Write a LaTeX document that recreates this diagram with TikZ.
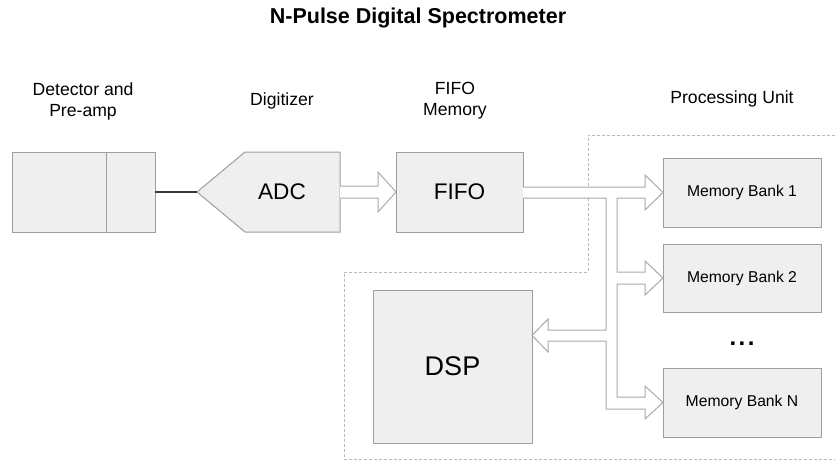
\documentclass[tikz,border=0pt]{standalone}
\usepackage{fontspec}
\setmainfont{Liberation Sans}
\usepackage{tikz}
\usetikzlibrary{calc}
\usetikzlibrary{positioning}

\definecolor{boxfill}{RGB}{239,239,239}
\definecolor{boxgray}{RGB}{158,158,158}
\definecolor{busgray}{RGB}{170,170,170}
\definecolor{wiregray}{RGB}{55,55,55}
\definecolor{dashgray}{RGB}{185,185,185}

\begin{document}
\begin{tikzpicture}[
    x=1pt,y=-1pt,
    box/.style={draw=boxgray,fill=boxfill,line width=1pt,inner sep=0pt,outer sep=0pt},
    bank/.style={box,minimum width=158pt,minimum height=69pt,font=\fontsize{15.7}{18}\selectfont},
    lbl/.style={align=center,font=\fontsize{17.6}{21}\selectfont},
    big/.style={font=\fontsize{22.6}{26}\selectfont},
    bus/.style={draw=busgray,fill=white,line width=1pt,line join=miter},
]
    \useasboundingbox (0,0) rectangle (835,460);

    %title and labels
    \node[font=\fontsize{21.5}{26}\selectfont\bfseries] (title) at (418,18) {N-Pulse Digital Spectrometer};
    \node[lbl] (ldet) at (83,101) {Detector and\\Pre-amp};
    \node[lbl] (ldig) at (282,101) {Digitizer};
    \node[lbl] (lfifo) at (455,101) {FIFO\\Memory};
    \node[lbl] (lpu) at (732,99) {Processing Unit};

    %processing unit
    \draw[dashgray,line width=1pt,dash pattern=on 3pt off 2pt]
        (835,135) -- (588,135) -- (588,272) -- (344,272) -- (344,459) -- (835,459);

    %detector
    \node[box,minimum width=94pt,minimum height=80pt] (det) at (59,192) {};
    \node[box,minimum width=49pt,minimum height=80pt,right=0pt of det] (amp) {};

    %digitizer
    \coordinate (adctip) at (197,192);
    \draw[box] (adctip) -- (245,152) -- (340,152) -- (340,232) -- (245,232) -- cycle;
    \node[big] (adc) at (282,192) {ADC};
    \draw[wiregray,line width=2pt] (amp) -- (adctip);

    %fifo
    \node[box,big,minimum width=127pt,minimum height=80pt] (fifo) at (459.5,192) {FIFO};
    \draw[bus] (340,186) -- (378,186) -- (378,172) -- (fifo.west) -- (378,212) -- (378,198) -- (340,198);

    %memory banks and dsp
    \node[bank] (mb1) at (742,192.5) {Memory Bank 1};
    \node[bank,minimum height=68pt] (mb2) at (742,278) {Memory Bank 2};
    \node[bank] (mbn) at (742,402.5) {Memory Bank N};
    \node[font=\fontsize{24}{28}\selectfont\bfseries] (dots) at (742,344) {.\hspace{2.5pt}.\hspace{2.5pt}.};
    \node[box,minimum width=159pt,minimum height=153pt,font=\fontsize{27}{32}\selectfont] (dsp) at (452.5,366.5) {DSP};

    \draw[bus] ([yshift=5pt]fifo.east) -- (645,187) -- (645,175) -- (mb1.west)
        -- (645,210) -- (645,198) -- (617,198) -- (617,272) -- (645,272) -- (645,261)
        -- (mb2.west) -- (645,295) -- (645,284) -- (617,284) -- (617,397) -- (645,397)
        -- (645,386) -- (mbn.west) -- (645,419) -- (645,409) -- (606,409) -- (606,341)
        -- (548,341) -- (548,352) -- (dsp.east |- 0,335.5) -- (548,319) -- (548,330)
        -- (606,330) -- (606,198) -- ([yshift=-6pt]fifo.east);
\end{tikzpicture}
\end{document}
